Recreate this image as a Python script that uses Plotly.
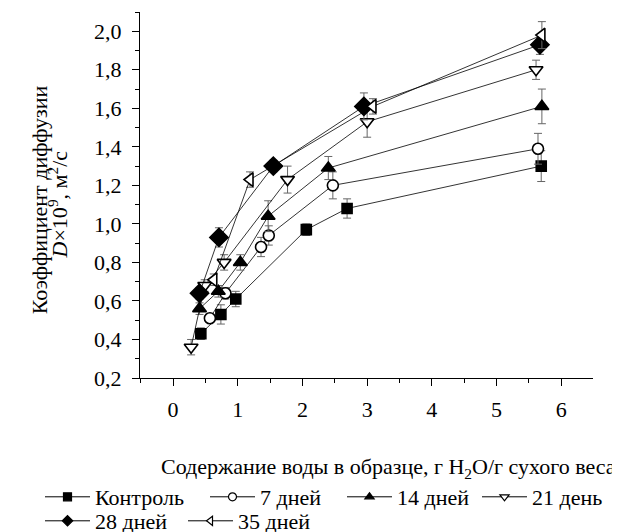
import plotly.graph_objects as go

# ---- data ----
ctrl_x = [0.43, 0.74, 0.97, 2.06, 2.69, 5.69]
ctrl_y = [0.43, 0.53, 0.61, 0.97, 1.08, 1.30]
ctrl_e = [0.03, 0.05, 0.04, 0.03, 0.05, 0.08]

d7_x = [0.57, 0.81, 1.36, 1.48, 2.47, 5.64]
d7_y = [0.51, 0.64, 0.88, 0.94, 1.20, 1.39]
d7_e = [0.02, 0.03, 0.05, 0.05, 0.07, 0.08]

d14_x = [0.41, 0.70, 1.04, 1.47, 2.40, 5.70]
d14_y = [0.56, 0.65, 0.80, 1.04, 1.29, 1.61]
d14_e = [0.03, 0.03, 0.04, 0.08, 0.06, 0.09]

d21_x = [0.28, 0.49, 0.79, 1.77, 3.00, 5.61]
d21_y = [0.36, 0.68, 0.80, 1.23, 1.53, 1.80]
d21_e = [0.04, 0.03, 0.04, 0.07, 0.08, 0.05]

d28_x = [0.41, 0.71, 1.55, 2.95, 5.67]
d28_y = [0.64, 0.93, 1.30, 1.61, 1.93]
d28_e = [0.03, 0.05, 0.03, 0.07, 0.05]

d35_x = [0.63, 1.19, 3.09, 5.70]
d35_y = [0.71, 1.23, 1.61, 1.98]
d35_e = [0.03, 0.04, 0.04, 0.07]

names = ["Контроль", "7 дней", "14 дней", "21 день", "28 дней", "35 дней"]

x_ticks = [0, 1, 2, 3, 4, 5, 6]
y_ticks = [0.2, 0.4, 0.6, 0.8, 1.0, 1.2, 1.4, 1.6, 1.8, 2.0]
y_ticktext = ["0,2", "0,4", "0,6", "0,8", "1,0", "1,2", "1,4", "1,6", "1,8", "2,0"]

series = [
    (ctrl_x, ctrl_y, ctrl_e, "square", "black", 10),
    (d7_x, d7_y, d7_e, "circle", "white", 11),
    (d14_x, d14_y, d14_e, "triangle-up", "black", 12),
    (d21_x, d21_y, d21_e, "triangle-down", "white", 12),
    (d28_x, d28_y, d28_e, "diamond", "black", 14),
    (d35_x, d35_y, d35_e, "triangle-left", "white", 12),
]

FONT = "Times New Roman, serif"
FS = 22

fig = go.Figure()

for (xs, ys, es, sym, fill, sz), nm in zip(series, names):
    fig.add_trace(go.Scatter(
        x=xs, y=ys, mode="lines+markers", name=nm, showlegend=False,
        line=dict(color="black", width=0.8),
        marker=dict(symbol=sym, size=sz, color=fill,
                    line=dict(color="black", width=1.6)),
        error_y=dict(type="data", array=es, visible=True,
                     color="#666666", thickness=1, width=4),
        cliponaxis=False,
    ))

# one legend per entry so each sits where the reference puts it
# (text left edge, row centre) in figure pixels
leg_pos = [(87, 489), (252, 489), (389, 489), (524, 489), (87, 513), (230, 513)]
ITEMW = 45
TEXTGAP = ITEMW + 10
legends = {}
for i, ((xs, ys, es, sym, fill, sz), nm) in enumerate(zip(series, names)):
    lid = "legend" if i == 0 else f"legend{i + 1}"
    fig.add_trace(go.Scatter(
        x=[None], y=[None], mode="lines+markers", name=nm, legend=lid,
        line=dict(color="black", width=1),
        marker=dict(symbol=sym, size=8, color=fill,
                    line=dict(color="black", width=1.2)),
    ))
    tx, ty = leg_pos[i]
    legends[lid] = dict(
        orientation="h", xref="container", yref="container",
        x=(tx - TEXTGAP) / 612, y=1 - ty / 524, xanchor="left", yanchor="middle",
        font=dict(family=FONT, size=FS, color="black"), itemwidth=ITEMW,
        bgcolor="rgba(0,0,0,0)", borderwidth=0,
    )

fig.update_xaxes(
    range=[-0.51, 6.49], tickvals=x_ticks, ticks="outside", ticklen=7,
    tickwidth=1.2, tickcolor="black", showline=True, linecolor="black",
    linewidth=1.4, showgrid=False, zeroline=False,
    tickfont=dict(family=FONT, size=FS, color="black"),
    ticklabelstandoff=4,
    minor=dict(dtick=0.5, ticks="outside", ticklen=4, tickcolor="black", tickwidth=1),
)
fig.update_yaxes(
    range=[0.2, 2.1], tickvals=y_ticks, ticktext=y_ticktext, ticks="outside",
    ticklen=7, tickwidth=1.2, tickcolor="black", showline=True,
    linecolor="black", linewidth=1.4, showgrid=False, zeroline=False,
    tickfont=dict(family=FONT, size=FS, color="black"),
    ticklabelstandoff=6,
    minor=dict(dtick=0.1, ticks="outside", ticklen=4, tickcolor="black", tickwidth=1),
)

fig.add_annotation(
    text="Коэффициент диффузии",
    xref="paper", yref="paper", x=-0.2225, y=0.486, textangle=-90,
    showarrow=False, font=dict(family=FONT, size=FS, color="black"),
    xanchor="center", yanchor="middle",
)
fig.add_annotation(
    text="<i>D</i>×10<sup>9</sup>, м<sup>2</sup>/с",
    xref="paper", yref="paper", x=-0.182, y=0.473, textangle=-90,
    showarrow=False, font=dict(family=FONT, size=FS, color="black"),
    xanchor="center", yanchor="middle",
)
fig.add_annotation(
    text="Содержание воды в образце, г H<sub>2</sub>O/г сухого веса",
    xref="paper", yref="paper", x=0.548, y=-0.246, xanchor="center",
    yanchor="middle", showarrow=False,
    font=dict(family=FONT, size=FS, color="black"),
)

fig.update_layout(
    width=612, height=524,
    margin=dict(l=132, r=27, t=4, b=154, autoexpand=False),
    paper_bgcolor="white", plot_bgcolor="white",
    showlegend=True,
    font=dict(family=FONT, color="black"),
    **legends,
)

fig.write_html("out.html")
